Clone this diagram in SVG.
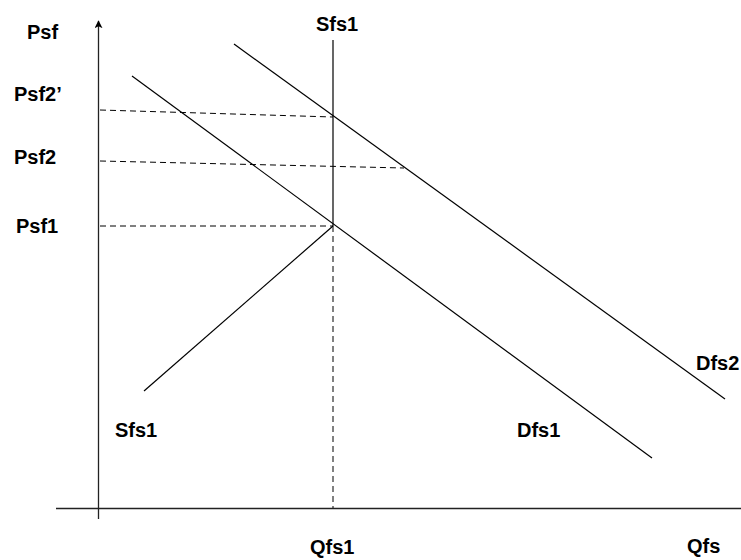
<svg xmlns="http://www.w3.org/2000/svg" width="741" height="560" viewBox="0 0 741 560">
<style>
.lbl{font-family:"Liberation Sans",Arial,sans-serif;font-weight:bold;font-size:20px;fill:#000}
.ln{stroke:#000;stroke-width:1.2;fill:none}
.ax{stroke:#222;stroke-width:1.3;fill:none}
.dash{stroke:#000;stroke-width:1;stroke-dasharray:6,4;fill:none}
</style>
<defs>
<marker id="arr" viewBox="0 0 10 10" refX="9" refY="5" markerWidth="8" markerHeight="8" markerUnits="userSpaceOnUse" orient="auto">
<path d="M0,0 L10,5 L0,10 L2.5,5 Z" fill="#000"/>
</marker>
</defs>
<g id="connectors">
<line class="ax" x1="98.5" y1="519" x2="98.5" y2="21" marker-end="url(#arr)"/>
<line class="ax" x1="56" y1="508.5" x2="748" y2="508.5" marker-end="url(#arr)"/>
<line class="dash" x1="100" y1="110" x2="333" y2="117"/>
<line class="dash" x1="100" y1="161" x2="404" y2="168"/>
<line class="dash" x1="100" y1="226" x2="333" y2="226"/>
<line class="dash" x1="333" y1="226" x2="333" y2="508"/>
</g>
<g id="Sfs1-vertical"><line class="ln" x1="333" y1="40" x2="333" y2="226"/></g>
<g id="Sfs1-diagonal"><line class="ln" x1="144" y1="391" x2="333" y2="226"/></g>
<g id="Dfs1"><line class="ln" x1="132" y1="76" x2="652" y2="458"/></g>
<g id="Dfs2"><line class="ln" x1="234" y1="44" x2="725" y2="399"/></g>
<g id="labels">
<text class="lbl" x="27" y="39">Psf</text>
<text class="lbl" x="14" y="101">Psf2’</text>
<text class="lbl" x="14" y="164">Psf2</text>
<text class="lbl" x="16" y="233">Psf1</text>
<text class="lbl" x="316" y="31">Sfs1</text>
<text class="lbl" x="115" y="437">Sfs1</text>
<text class="lbl" x="517" y="437">Dfs1</text>
<text class="lbl" x="696" y="370">Dfs2</text>
<text class="lbl" x="310" y="554">Qfs1</text>
<text class="lbl" x="687" y="553">Qfs</text>
</g>
</svg>
